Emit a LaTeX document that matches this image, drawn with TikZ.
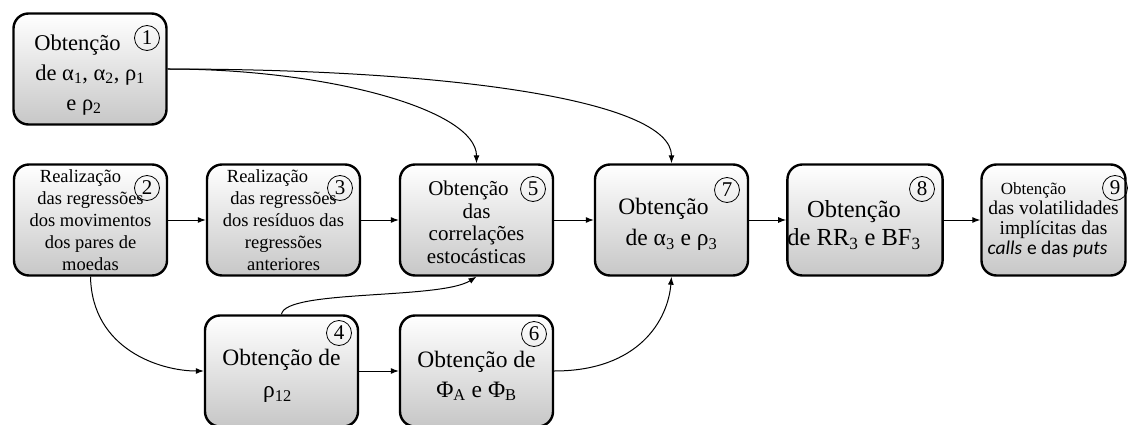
\documentclass[tikz,border=0pt]{standalone}
\usepackage{fontspec}
\setmainfont{Liberation Serif}
\newfontfamily\calib{Carlito}
\usetikzlibrary{arrows.meta}
\tikzset{
  box/.style={draw, line width=2.4pt, rounded corners=15pt, top color=white, bottom color=black!22,
    minimum width=153pt, minimum height=111pt, inner sep=0pt, align=center},
  num/.style={draw, line width=0.8pt, circle, minimum size=25pt, inner sep=0pt, font=\fontsize{21}{21}\selectfont},
  arr/.style={line width=1pt, -{Latex[length=8pt,width=6pt]}}
}
\newcommand{\sub}[1]{\textsubscript{#1}}
\newcommand{\lift}[1]{\rule{0pt}{#1pt}}
\begin{document}
\begin{tikzpicture}[x=1pt,y=-1pt]
\useasboundingbox (0,0) rectangle (1129,425);
\node[box, font=\fontsize{22.5}{30}\selectfont] (b1) at (90,69) {\lift{27}Obtenção\kern25pt\\de α\sub{1}, α\sub{2}, ρ\sub{1}\\e ρ\sub{2}\kern12pt};
\node[box, font=\fontsize{18.5}{22}\selectfont] (b2) at (90.5,220) {Realização\kern20pt\\das regressões\\dos movimentos\\dos pares de\\moedas};
\node[box, font=\fontsize{18.5}{22}\selectfont] (b3) at (283.5,220) {Realização\kern32pt\\das regressões\\dos resíduos das\\regressões\\anteriores};
\node[box, font=\fontsize{21}{22.5}\selectfont] (b5) at (476.5,220) {\lift{19}Obtenção\kern16pt\\das\\correlações\\estocásticas};
\node[box, font=\fontsize{23.5}{31}\selectfont] (b7) at (671.5,220) {\lift{25}Obtenção\kern16pt\\de α\sub{3} e ρ\sub{3}};
\node[box, font=\fontsize{24.5}{28}\selectfont] (b8) at (865,220) {\lift{27}Obtenção\kern22pt\\de RR\sub{3} e BF\sub{3}\kern22pt};
\node[box, minimum width=144pt, font=\fontsize{19.5}{20}\selectfont] (b9) at (1053.5,220) {{\fontsize{17}{20}\selectfont Obtenção}\kern40pt\\das volatilidades\\implícitas das\\{\calib\itshape calls} {\calib e das} {\calib\itshape puts}\kern12pt};
\node[box, font=\fontsize{23.5}{32}\selectfont] (b4) at (281.5,371) {\lift{26}Obtenção de\\ρ\sub{12}\kern8pt};
\node[box, font=\fontsize{23.5}{30}\selectfont] (b6) at (476.5,371) {\lift{26}Obtenção de\\Φ\sub{A} e Φ\sub{B}};
\node[num] (n1) at (147,38) {1};
\node[num] (n2) at (147,188) {2};
\node[num] (n3) at (340,188) {3};
\node[num] (n5) at (533,189) {5};
\node[num] (n7) at (727,190) {7};
\node[num] (n8) at (922,189) {8};
\node[num] (n9) at (1115,188) {9};
\node[num] (n4) at (339,333) {4};
\node[num] (n6) at (534,334) {6};
\draw[arr] (b2) -- (b3);
\draw[arr] (b3) -- (b5);
\draw[arr] (b5) -- (b7);
\draw[arr] (b7) -- (b8);
\draw[arr] (b8) -- (b9);
\draw[arr] (b4) -- (b6);
\draw[arr] (b1.east) .. controls +(162,0) and +(0,-53) .. (b5.north);
\draw[arr] (b1.east) .. controls +(282,0) and +(0,-63) .. (b7.north);
\draw[arr] (b2.south) .. controls +(1.5,73) and +(-43,0) .. (b4.west);
\draw[arr] (b4.north) .. controls +(3.5,-25) and +(-36.5,23) .. (b5.south);
\draw[arr] (b6.east) .. controls +(85,0) and +(-3.5,43) .. (b7.south);
\end{tikzpicture}
\end{document}
